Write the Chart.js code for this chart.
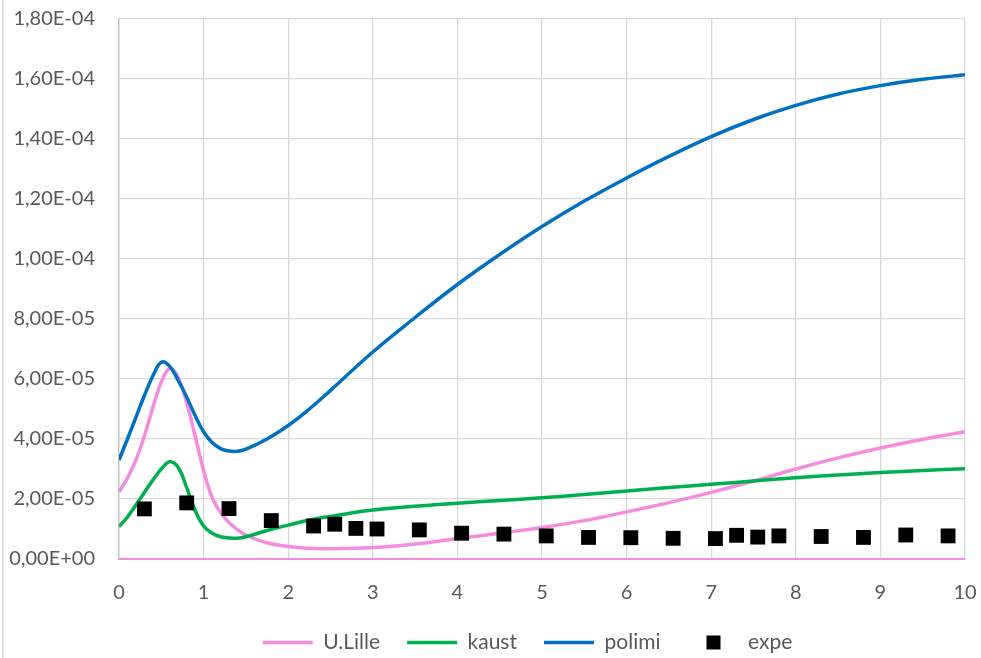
<!DOCTYPE html>
<html>
<head>
<meta charset="utf-8">
<script src="https://cdn.jsdelivr.net/npm/chart.js@4/dist/chart.umd.min.js"></script>
<style>
  html, body { margin: 0; padding: 0; background: #ffffff; }
  #wrap { width: 981px; height: 658px; position: relative; }
</style>
</head>
<body>
<div id="wrap"><canvas id="chart" width="981" height="658"></canvas></div>
<script>
// Abscissa shared by the three model curves
const xModel = [0, 0.1, 0.2, 0.3, 0.4, 0.5, 0.6, 0.7, 0.8, 0.9, 1.0, 1.1, 1.2, 1.3, 1.4, 1.5,
  1.75, 2, 2.25, 2.5, 3, 3.5, 4, 4.5, 5, 5.5, 6, 6.5, 7, 7.5, 8, 8.5, 9, 9.5, 10];

// Model results
const uLille = [2.24e-5, 2.70e-5, 3.30e-5, 4.10e-5, 5.05e-5, 5.90e-5, 6.35e-5, 6.05e-5, 5.20e-5, 4.10e-5,
  2.95e-5, 2.05e-5, 1.55e-5, 1.22e-5, 0.98e-5, 0.80e-5, 0.54e-5, 0.42e-5, 0.36e-5, 0.34e-5,
  0.38e-5, 0.50e-5, 0.68e-5, 0.86e-5, 1.05e-5, 1.28e-5, 1.57e-5, 1.88e-5, 2.22e-5, 2.60e-5,
  3.00e-5, 3.37e-5, 3.70e-5, 3.99e-5, 4.24e-5];
const kaust = [1.08e-5, 1.40e-5, 1.80e-5, 2.22e-5, 2.63e-5, 3.00e-5, 3.24e-5, 3.05e-5, 2.38e-5, 1.62e-5,
  1.10e-5, 0.86e-5, 0.74e-5, 0.70e-5, 0.69e-5, 0.74e-5, 0.95e-5, 1.13e-5, 1.30e-5, 1.42e-5,
  1.63e-5, 1.76e-5, 1.86e-5, 1.95e-5, 2.04e-5, 2.15e-5, 2.27e-5, 2.38e-5, 2.49e-5, 2.60e-5,
  2.71e-5, 2.80e-5, 2.88e-5, 2.95e-5, 3.01e-5];
const polimi = [3.30e-5, 4.00e-5, 4.72e-5, 5.45e-5, 6.10e-5, 6.56e-5, 6.42e-5, 5.95e-5, 5.40e-5, 4.78e-5,
  4.24e-5, 3.88e-5, 3.68e-5, 3.60e-5, 3.59e-5, 3.66e-5, 4.00e-5, 4.45e-5, 5.00e-5, 5.62e-5,
  6.90e-5, 8.05e-5, 9.15e-5, 10.15e-5, 11.08e-5, 11.93e-5, 12.70e-5, 13.42e-5, 14.08e-5, 14.65e-5,
  15.12e-5, 15.50e-5, 15.78e-5, 15.99e-5, 16.14e-5];

// Experimental points
const expeX = [0.3, 0.8, 1.3, 1.8, 2.3, 2.55, 2.8, 3.05, 3.55, 4.05, 4.55, 5.05, 5.55, 6.05, 6.55,
  7.05, 7.3, 7.55, 7.8, 8.3, 8.8, 9.3, 9.8];
const expeY = [1.67e-5, 1.87e-5, 1.68e-5, 1.28e-5, 1.10e-5, 1.16e-5, 1.02e-5, 1.00e-5, 0.97e-5, 0.86e-5,
  0.83e-5, 0.77e-5, 0.72e-5, 0.71e-5, 0.69e-5, 0.68e-5, 0.79e-5, 0.73e-5, 0.77e-5, 0.75e-5,
  0.72e-5, 0.80e-5, 0.77e-5];

// Axis ranges
const xRange = { min: 0, max: 10, step: 1 };
const yRange = { min: 0, max: 1.8e-4, step: 2e-5 };

const PINK = '#f48ce0', GREEN = '#00b050', BLUE = '#0070c0', GRID = '#d9d9d9', TEXT = '#595959';

const pts = (xs, ys) => xs.map((x, i) => ({ x, y: ys[i] }));

// "1,80E-04" style labels
function sci(v) {
  const [m, e] = Number(v).toExponential(2).split('e');
  const n = parseInt(e, 10);
  return m.replace('.', ',') + 'E' + (n < 0 ? '-' : '+') + String(Math.abs(n)).padStart(2, '0');
}

// Legend marker for the experimental series
const expeMarker = document.createElement('canvas');
expeMarker.width = 50; expeMarker.height = 16;
(function () {
  const g = expeMarker.getContext('2d');
  g.fillStyle = '#000';
  g.fillRect(19, 1, 14, 14);
})();

// Thin frame line on the left edge of the chart
const frame = {
  id: 'frame',
  beforeDraw(chart) {
    const c = chart.ctx;
    c.save();
    c.strokeStyle = GRID;
    c.lineWidth = 1.5;
    c.beginPath();
    c.moveTo(2.75, 0);
    c.lineTo(2.75, chart.height);
    c.stroke();
    c.restore();
  }
};

// Legend placement under the full chart frame
const legendPlace = {
  id: 'legendPlace',
  afterLayout(chart) {
    const l = chart.legend;
    const dx = 45, dy = 5;
    l.left += dx; l.right += dx;
    l.top += dy; l.bottom += dy;
  }
};

Chart.defaults.font.family = 'Lato, "Open Sans", sans-serif';
Chart.defaults.color = TEXT;

const lineDs = (label, data, color, order) => ({
  label, data: pts(xModel, data), borderColor: color, backgroundColor: color,
  borderWidth: 3.5, pointRadius: 0, pointHoverRadius: 0, fill: false,
  tension: 0.4, order
});

new Chart(document.getElementById('chart'), {
  type: 'line',
  data: {
    datasets: [
      lineDs('U.Lille', uLille, PINK, 3),
      lineDs('kaust', kaust, GREEN, 2),
      lineDs('polimi', polimi, BLUE, 1),
      {
        label: 'expe', data: pts(expeX, expeY), showLine: false,
        pointStyle: 'rect', pointRadius: 10.5, pointHoverRadius: 10.5,
        backgroundColor: '#000', borderColor: '#000', borderWidth: 0, order: 0
      }
    ]
  },
  options: {
    responsive: false,
    animation: false,
    devicePixelRatio: 1,
    layout: { padding: { left: 0, right: 16, top: 19, bottom: 0 } },
    plugins: {
      tooltip: { enabled: false },
      legend: {
        position: 'bottom',
        labels: {
          usePointStyle: true,
          pointStyleWidth: 50,
          padding: 27,
          color: TEXT,
          font: { size: 21 },
          sort: (a, b) => a.datasetIndex - b.datasetIndex,
          generateLabels(chart) {
            const items = Chart.defaults.plugins.legend.labels.generateLabels(chart);
            items.forEach(it => {
              it.pointStyle = it.text === 'expe' ? expeMarker : 'line';
            });
            return items;
          }
        }
      }
    },
    scales: {
      x: {
        type: 'linear',
        min: xRange.min, max: xRange.max,
        ticks: { stepSize: xRange.step, padding: 22, font: { size: 20 }, color: TEXT, maxRotation: 0 },
        grid: { color: GRID, lineWidth: 1.3, drawTicks: false },
        border: { color: PINK, width: 2 },
        afterFit(scale) {
          scale.height = 658 - 559 - scale.chart.legend.height;
          scale.paddingLeft = 0; scale.paddingRight = 0;
        }
      },
      y: {
        type: 'linear',
        min: yRange.min, max: yRange.max,
        ticks: { stepSize: yRange.step, padding: 24, font: { size: 20 }, color: TEXT, callback: v => sci(v) },
        grid: {
          color: ctx => (ctx.tick && ctx.tick.value === 0 ? PINK : GRID),
          lineWidth: 1.3, drawTicks: false
        },
        border: { color: '#bfbfbf', width: 1.3 },
        afterFit(scale) {
          scale.width = 119;
          scale.paddingTop = 0; scale.paddingBottom = 0;
        }
      }
    }
  },
  plugins: [frame, legendPlace]
});
</script>
</body>
</html>
